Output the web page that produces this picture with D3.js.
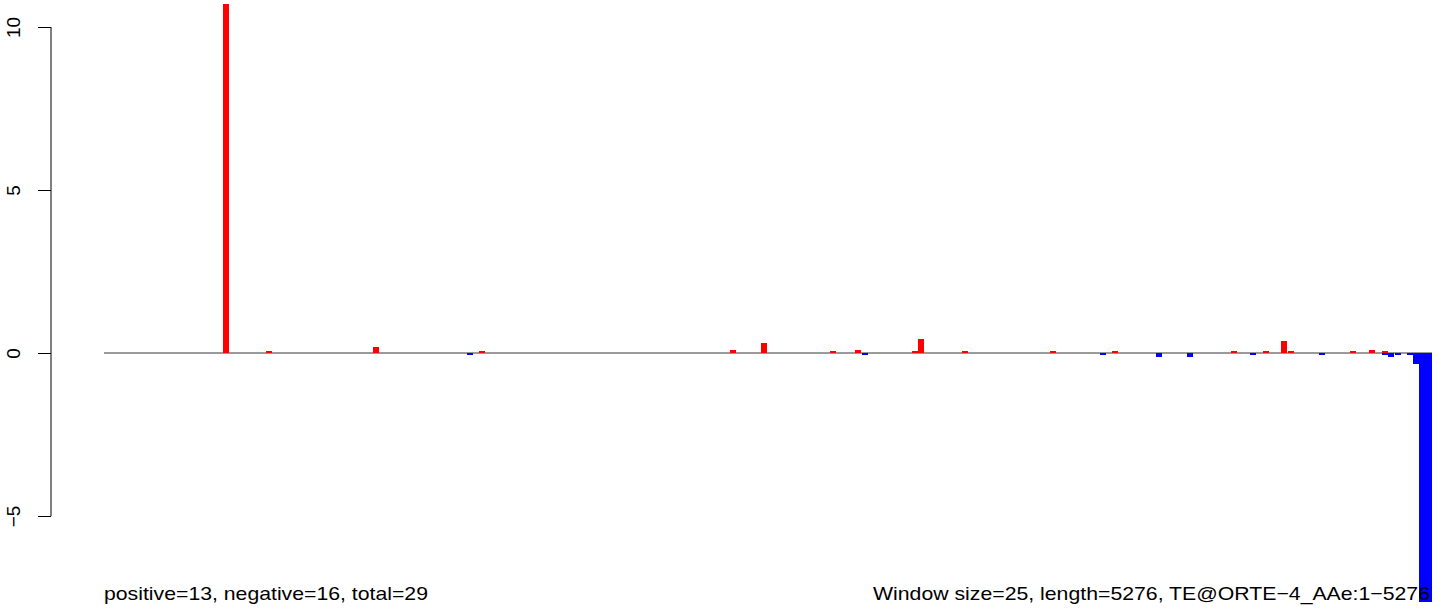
<!DOCTYPE html>
<html>
<head>
<meta charset="utf-8">
<script src="https://cdn.jsdelivr.net/npm/d3@7"></script>
<style>
  html, body { margin: 0; padding: 0; background: #fff; }
  svg { display: block; font-family: "Liberation Sans", Arial, Helvetica, sans-serif; }
</style>
</head>
<body>
<svg id="chart" width="1444" height="613"></svg>
<script>
// ---- data ----
const seqLength = 5276;
const windowSize = 25;
// window start positions (bp) and signal values
const barStarts = [473, 644, 1069, 1442, 1490, 2487, 2610, 2884, 2984, 3011,
                   3210, 3234, 3409, 3758, 3957, 4005, 4179, 4303, 4477, 4553,
                   4605, 4676, 4704, 4827, 4950, 5026, 5077, 5077, 5101, 5129,
                   5177, 5200, 5224, 5250];
const barValues = [10.72, 0.05, 0.19, -0.07, 0.05, 0.1, 0.32, 0.05, 0.1, -0.07,
                   0.05, 0.42, 0.05, 0.05, -0.07, 0.05, -0.13, -0.13, 0.05, -0.07,
                   0.05, 0.38, 0.05, -0.07, 0.05, 0.1, 0.05, -0.07, -0.13, -0.07,
                   -0.07, -0.35, -7.65, -7.65];
const yTicks = [-5, 0, 5, 10];
const leftNote = "positive=13, negative=16, total=29";
const rightNote = "Window size=25, length=5276, TE@ORTE\u22124_AAe:1\u22125276";

// ---- drawing ----
const svg = d3.select("#chart");
const x = d3.scaleLinear().domain([0, seqLength]).range([104, 1432]);
const y = d3.scaleLinear().domain([-5, 10]).range([516, 27]);

// baseline
svg.append("line")
  .attr("x1", x(0)).attr("x2", x(seqLength))
  .attr("y1", y(0)).attr("y2", y(0))
  .attr("stroke", "#9a9a9a").attr("stroke-width", 2);

const bars = barStarts.map((s, i) => ({ s, v: barValues[i] }));
svg.append("g").selectAll("rect").data(bars).join("rect")
  .attr("x", d => x(d.s))
  .attr("width", d => x(d.s + windowSize) - x(d.s))
  .attr("y", d => y(Math.max(0, d.v)))
  .attr("height", d => Math.abs(y(d.v) - y(0)))
  .attr("fill", d => d.v >= 0 ? "#ff0000" : "#0000ff")
  .attr("shape-rendering", "crispEdges");

// y axis (R style: rotated labels)
const axis = d3.axisLeft(y).tickValues(yTicks).tickSize(13).tickPadding(0)
  .tickFormat(d => d < 0 ? "\u2212" + Math.abs(d) : String(d));
const ag = svg.append("g").attr("transform", "translate(51,0)").call(axis);
ag.select(".domain").attr("d", `M0,${y(-5)}V${y(10)}`).attr("stroke", "#000");
ag.selectAll(".tick line").attr("stroke", "#000");
ag.selectAll(".tick text")
  .attr("x", 0).attr("dy", null).attr("y", 0)
  .attr("text-anchor", "middle")
  .attr("font-size", 19)
  .attr("fill", "#000")
  .attr("transform", "translate(-31,0) rotate(-90)");

// bottom notes
svg.append("text").attr("x", 104).attr("y", 600)
  .attr("font-size", 19).attr("fill", "#000")
  .attr("textLength", 324).attr("lengthAdjust", "spacingAndGlyphs")
  .text(leftNote);
svg.append("text").attr("x", 873).attr("y", 600)
  .attr("font-size", 19).attr("fill", "#000")
  .attr("textLength", 557).attr("lengthAdjust", "spacingAndGlyphs")
  .text(rightNote);
</script>
</body>
</html>
